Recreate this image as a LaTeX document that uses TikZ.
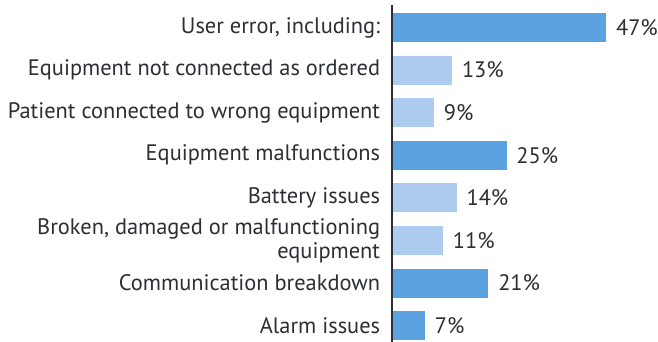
\documentclass[tikz,border=0pt]{standalone}
\usepackage{fontspec}
\setmainfont{PT Sans}
\usetikzlibrary{positioning}
\definecolor{barDark}{RGB}{91,163,224}
\definecolor{barLight}{RGB}{174,203,240}
\definecolor{txtGray}{RGB}{43,46,50}
\tikzset{
	catlabel/.style={anchor=east,align=right,text=txtGray,inner sep=0pt,
		font=\fontsize{16.8}{18}\selectfont},
	pctlabel/.style={text=txtGray,inner sep=0pt,font=\fontsize{16.8}{18}\selectfont},
	hbar/.style={anchor=west,inner sep=0pt,minimum height=21.75pt,draw=none},
	axisline/.style={draw=txtGray,line width=2.2pt},
}

\begin{document}
\begin{tikzpicture}[x=0.75pt,y=-0.75pt]
	\useasboundingbox (0,0) rectangle (658,342);
	% bars, percentages and category names
	\foreach \v/\c/\t [count=\i] in {
		47/barDark/{User error, including:},
		13/barLight/{Equipment not connected as ordered},
		9/barLight/{Patient connected to wrong equipment},
		25/barDark/{Equipment malfunctions},
		14/barLight/{Battery issues},
		11/barLight/{Broken, damaged or malfunctioning\\equipment},
		21/barDark/{Communication breakdown},
		7/barDark/{Alarm issues}}{
		\pgfmathsetmacro{\cy}{27.5+42.6*(\i-1)}
		\pgfmathsetmacro{\w}{\v*4.53*0.75}
		\node[hbar,fill=\c,minimum width=\w pt] (bar\i) at (393,\cy) {};
		\node[pctlabel,right=7pt of bar\i] (pct\i) {\v\%};
		\node[catlabel,left=9.5pt of bar\i] (cat\i) {\t};
	}
	% category axis
	\coordinate (axtop) at (392,5);
	\coordinate (axbot) at (392,342);
	\draw[axisline] (axtop) -- (axbot);
\end{tikzpicture}
\end{document}
